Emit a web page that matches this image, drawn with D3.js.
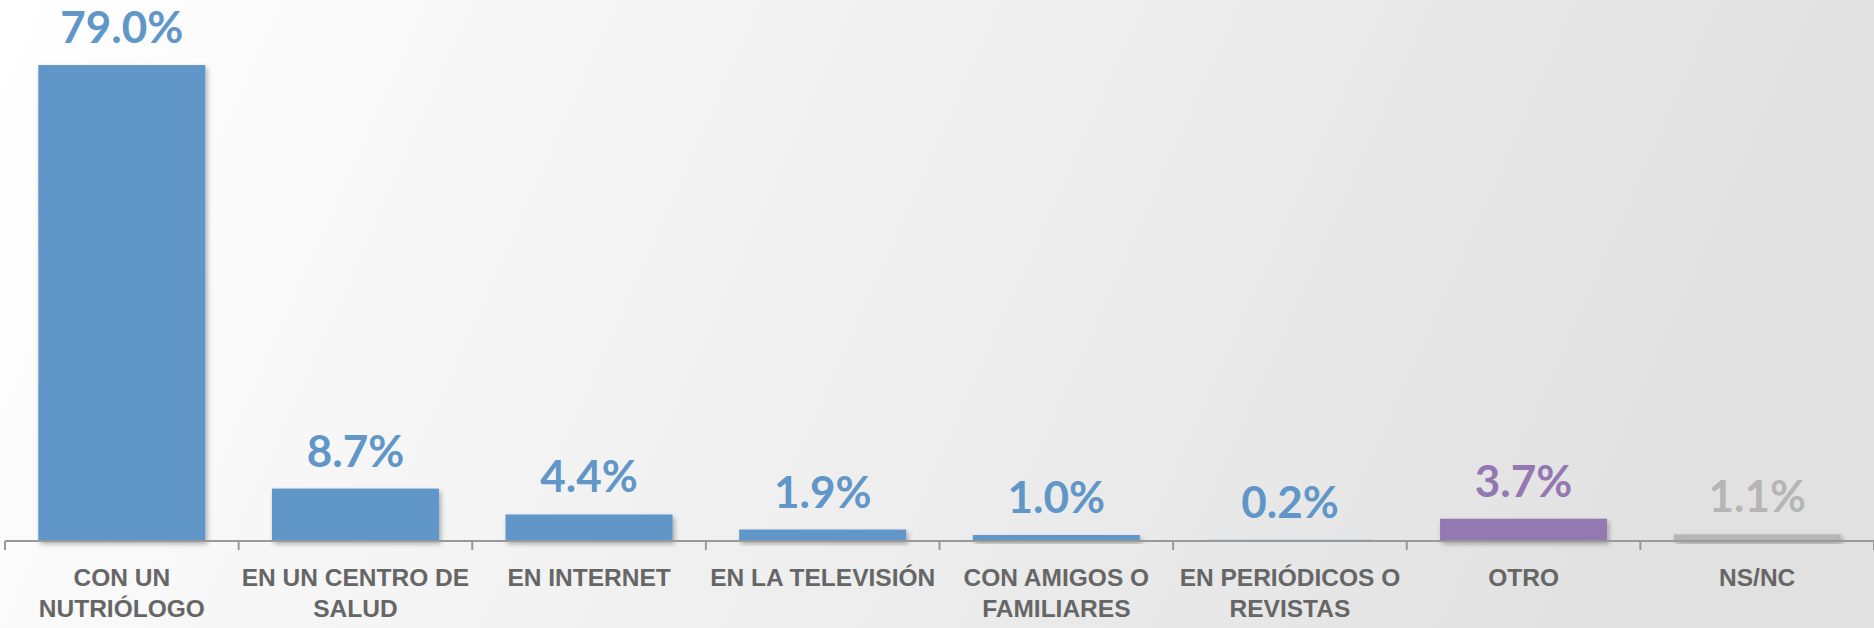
<!DOCTYPE html>
<html>
<head>
<meta charset="utf-8">
<script src="https://cdn.jsdelivr.net/npm/d3@7"></script>
<style>
  html, body { margin: 0; padding: 0; overflow: hidden; }
  body { width: 1874px; height: 628px; }
</style>
</head>
<body>
<div id="chart"></div>
<script>
// data
var categories = ["CON UN\nNUTRIÓLOGO", "EN UN CENTRO DE\nSALUD", "EN INTERNET", "EN LA TELEVISIÓN",
                  "CON AMIGOS O\nFAMILIARES", "EN PERIÓDICOS O\nREVISTAS", "OTRO", "NS/NC"];
var values = [79.0, 8.7, 4.4, 1.9, 1.0, 0.2, 3.7, 1.1];
var barColors = ["#6096c8", "#6096c8", "#6096c8", "#6096c8", "#6096c8", "#6096c8", "#9378b2", "#b5b5b5"];

var data = categories.map(function(c, i) {
    return {cat: c, value: values[i], color: barColors[i]};
});

var W = 1874, H = 628;
var margin = {top: 59, right: 0, bottom: 87, left: 5};
var width = W - margin.left - margin.right;
var height = H - margin.top - margin.bottom;

var svg = d3.select("#chart")
    .append("svg")
    .attr("width", W)
    .attr("height", H);

var defs = svg.append("defs");
var grad = defs.append("linearGradient")
    .attr("id", "bg")
    .attr("x1", "0").attr("y1", "0")
    .attr("x2", "1").attr("y2", "0.15");
grad.append("stop").attr("offset", "0").attr("stop-color", "#ffffff");
grad.append("stop").attr("offset", "1").attr("stop-color", "#e1e1e1");

var shadow = defs.append("filter")
    .attr("id", "shadow")
    .attr("x", "-10%").attr("y", "-10%")
    .attr("width", "130%").attr("height", "150%");
shadow.append("feDropShadow")
    .attr("dx", 2).attr("dy", 3)
    .attr("stdDeviation", 2.5)
    .attr("flood-color", "#000")
    .attr("flood-opacity", 0.3);

svg.append("rect")
    .attr("width", W)
    .attr("height", H)
    .attr("fill", "url(#bg)");

var g = svg.append("g")
    .attr("transform", "translate(" + margin.left + "," + margin.top + ")");

var pad = 0.285;
var x = d3.scaleBand()
    .domain(categories)
    .range([0, width])
    .paddingInner(pad)
    .paddingOuter(pad / 2);

var y = d3.scaleLinear()
    .domain([0, 80])
    .range([height, 0]);

// bars
g.selectAll(".bar")
    .data(data)
    .enter()
    .append("rect")
    .attr("class", "bar")
    .attr("x", function(d) { return x(d.cat); })
    .attr("y", function(d) { return y(d.value); })
    .attr("width", x.bandwidth())
    .attr("height", function(d) { return height - y(d.value); })
    .attr("fill", function(d) { return d.color; })
    .attr("filter", "url(#shadow)");

// axis line + ticks on band boundaries
var step = x.step();
var axis = g.append("g")
    .attr("transform", "translate(0," + height + ")");
axis.append("line")
    .attr("x1", 0).attr("x2", width)
    .attr("stroke", "#999").attr("stroke-width", 2);
axis.selectAll(".tick")
    .data(categories.concat([null]))
    .enter()
    .append("line")
    .attr("x1", function(d, i) { return i * step; })
    .attr("x2", function(d, i) { return i * step; })
    .attr("y1", 0).attr("y2", 9)
    .attr("stroke", "#999").attr("stroke-width", 2);

// category labels
var labels = axis.selectAll(".cat")
    .data(data)
    .enter()
    .append("text")
    .attr("class", "cat")
    .attr("text-anchor", "middle")
    .attr("font-family", "'Liberation Sans', Arial, sans-serif")
    .attr("font-weight", "bold")
    .attr("font-size", "24.5px")
    .attr("fill", "#666");
labels.each(function(d) {
    var t = d3.select(this);
    d.cat.split("\n").forEach(function(line, i) {
        t.append("tspan")
            .attr("x", x(d.cat) + x.bandwidth() / 2)
            .attr("y", 45 + i * 31)
            .text(line);
    });
});

// value labels
g.selectAll(".val")
    .data(data)
    .enter()
    .append("text")
    .attr("class", "val")
    .attr("x", function(d) { return x(d.cat) + x.bandwidth() / 2; })
    .attr("y", function(d) { return y(d.value) - 22; })
    .attr("text-anchor", "middle")
    .attr("font-family", "Lato, sans-serif")
    .attr("font-weight", "bold")
    .attr("font-size", "44px")
    .attr("fill", function(d) { return d.color; })
    .text(function(d) { return d.value.toFixed(1) + "%"; });
</script>
</body>
</html>
